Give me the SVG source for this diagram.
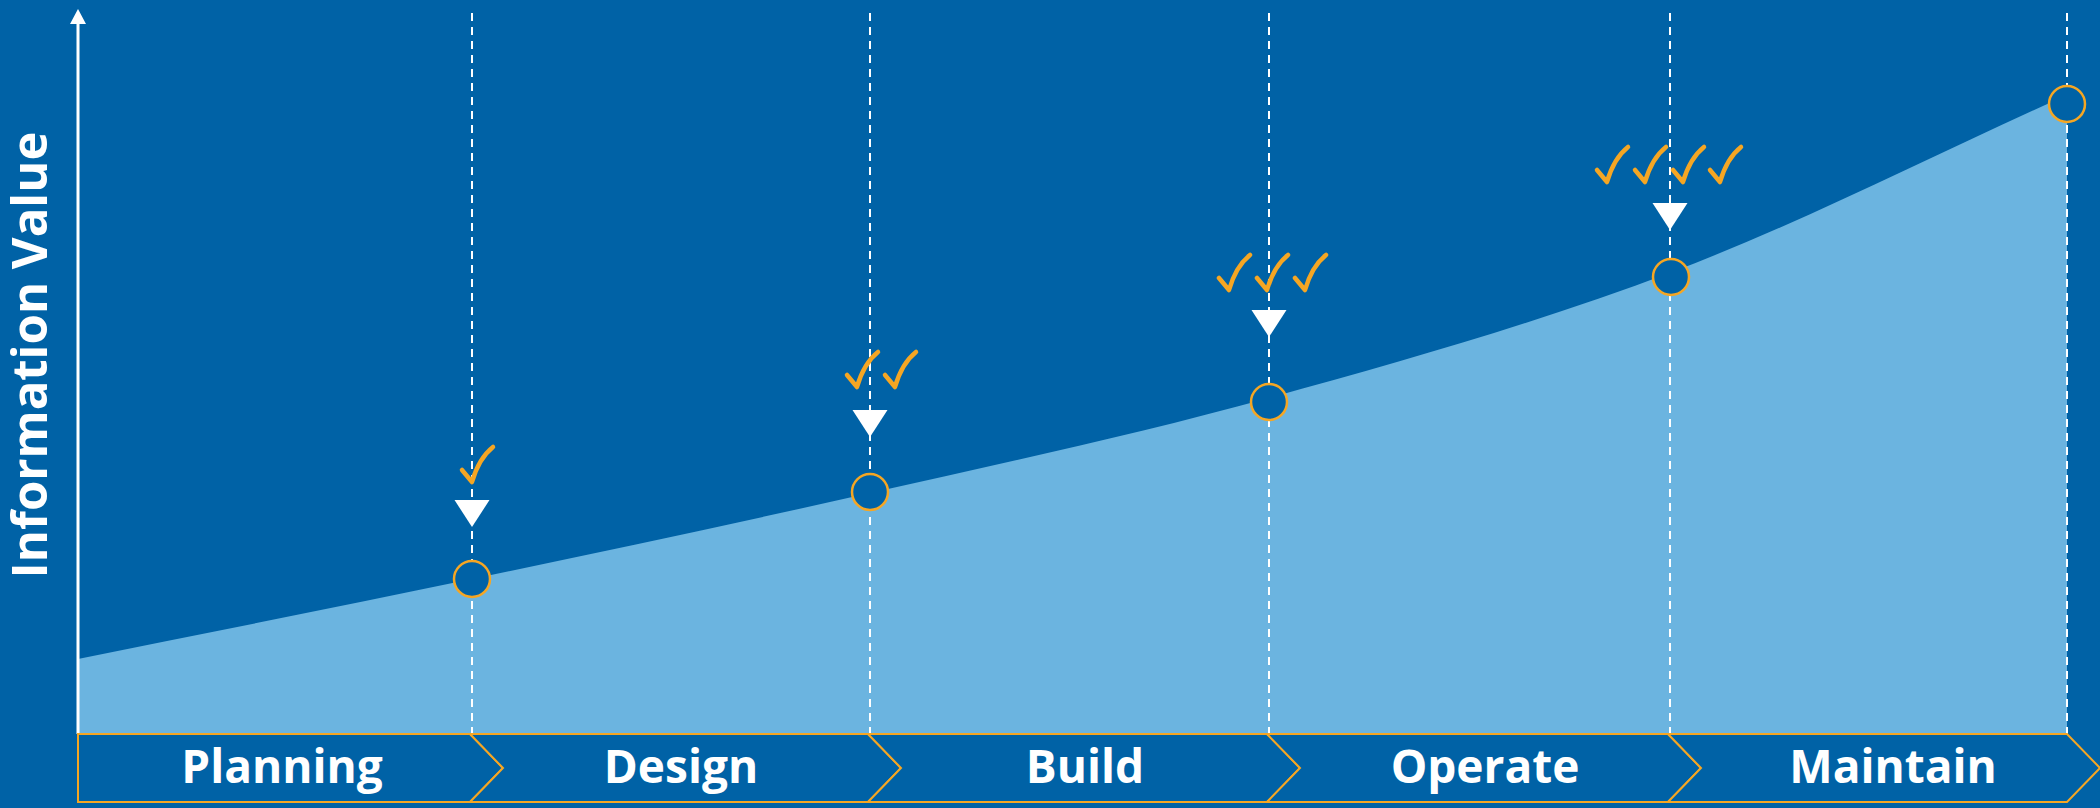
<svg xmlns="http://www.w3.org/2000/svg" xmlns:xlink="http://www.w3.org/1999/xlink" width="2100" height="808" viewBox="0 0 2100 808">
  <style>
    .guide { stroke: #ffffff; stroke-width: 2; stroke-dasharray: 8 6; fill: none; }
    .pointer { fill: #ffffff; }
    .milestone { fill: #0062A6; stroke: #F5A623; stroke-width: 2.5; }
    .stage { fill: #0062A6; stroke: #F5A623; stroke-width: 2; stroke-linejoin: miter; }
    .stage-label { font-family: "Open Sans", "Liberation Sans", sans-serif; font-weight: 700; font-size: 46px; fill: #ffffff; text-anchor: middle; }
    .axis-label { font-family: "Open Sans", "Liberation Sans", sans-serif; font-weight: 700; font-size: 49px; fill: #ffffff; text-anchor: middle; }
    .tick { fill: none; stroke: #F5A623; stroke-width: 4.5; stroke-linecap: round; stroke-linejoin: round; }
  </style>
  <defs>
    <!-- hand-drawn check mark, origin at its lowest point -->
    <path id="tick" class="tick" d="M-10,-12 L0,0 C4,-14 11,-27 21,-35"/>
  </defs>

  <!-- background -->
  <rect x="0" y="0" width="2100" height="808" fill="#0062A6"/>

  <!-- value curve area -->
  <path id="value-area" fill="#6BB4E0" d="M78,734 L78,659 C209.3,632.3 340,606.7 472,579 C604,551.3 737.2,523.2 870,493 C1002.8,462.8 1135.3,434.8 1269,398 C1402.7,361.2 1539,322.5 1672,272 C1805,221.5 1935.3,154 2067,95 L2067,734 Z"/>

  <!-- vertical axis -->
  <g id="axis">
    <line x1="78" y1="22" x2="78" y2="734" stroke="#ffffff" stroke-width="3"/>
    <polygon points="78,9 70,24 86,24" fill="#ffffff"/>
    <text class="axis-label" transform="translate(47,355) rotate(-90)">Information Value</text>
  </g>

  <!-- dashed guides and pointers -->
  <g id="connectors">
    <line class="guide" x1="472" y1="13" x2="472" y2="734"/>
    <line class="guide" x1="870" y1="13" x2="870" y2="734"/>
    <line class="guide" x1="1269" y1="13" x2="1269" y2="734"/>
    <line class="guide" x1="1670" y1="13" x2="1670" y2="734"/>
    <line class="guide" x1="2067" y1="13" x2="2067" y2="734"/>
    <polygon class="pointer" points="454.5,500 489.5,500 472,527"/>
    <polygon class="pointer" points="852.5,410 887.5,410 870,437"/>
    <polygon class="pointer" points="1251.5,310 1286.5,310 1269,337"/>
    <polygon class="pointer" points="1652.5,203 1687.5,203 1670,230"/>
  </g>

  <!-- check marks -->
  <g id="checks">
    <use xlink:href="#tick" x="472" y="482"/>
    <use xlink:href="#tick" x="857" y="387"/>
    <use xlink:href="#tick" x="895" y="387"/>
    <use xlink:href="#tick" x="1229" y="290"/>
    <use xlink:href="#tick" x="1267" y="290"/>
    <use xlink:href="#tick" x="1305" y="290"/>
    <use xlink:href="#tick" x="1607" y="182"/>
    <use xlink:href="#tick" x="1645" y="182"/>
    <use xlink:href="#tick" x="1683" y="182"/>
    <use xlink:href="#tick" x="1720" y="182"/>
  </g>

  <!-- milestones on the curve -->
  <g id="milestone-planning"><circle class="milestone" cx="472" cy="579" r="18"/></g>
  <g id="milestone-design"><circle class="milestone" cx="870" cy="492" r="18"/></g>
  <g id="milestone-build"><circle class="milestone" cx="1269" cy="402" r="18"/></g>
  <g id="milestone-operate"><circle class="milestone" cx="1671" cy="277" r="18"/></g>
  <g id="milestone-maintain"><circle class="milestone" cx="2067" cy="104" r="18"/></g>

  <!-- lifecycle stages -->
  <g id="stage-planning">
    <polygon class="stage" points="78,734 470,734 503,768 470,802 78,802"/>
    <text class="stage-label" x="282" y="783">Planning</text>
  </g>
  <g id="stage-design">
    <polygon class="stage" points="470,734 868,734 901,768 868,802 470,802 503,768"/>
    <text class="stage-label" x="681" y="783">Design</text>
  </g>
  <g id="stage-build">
    <polygon class="stage" points="868,734 1267,734 1300,768 1267,802 868,802 901,768"/>
    <text class="stage-label" x="1085" y="783">Build</text>
  </g>
  <g id="stage-operate">
    <polygon class="stage" points="1267,734 1668,734 1701,768 1668,802 1267,802 1300,768"/>
    <text class="stage-label" x="1485" y="783">Operate</text>
  </g>
  <g id="stage-maintain">
    <polygon class="stage" points="1668,734 2067,734 2100,768 2067,802 1668,802 1701,768"/>
    <text class="stage-label" x="1893" y="783">Maintain</text>
  </g>
</svg>
